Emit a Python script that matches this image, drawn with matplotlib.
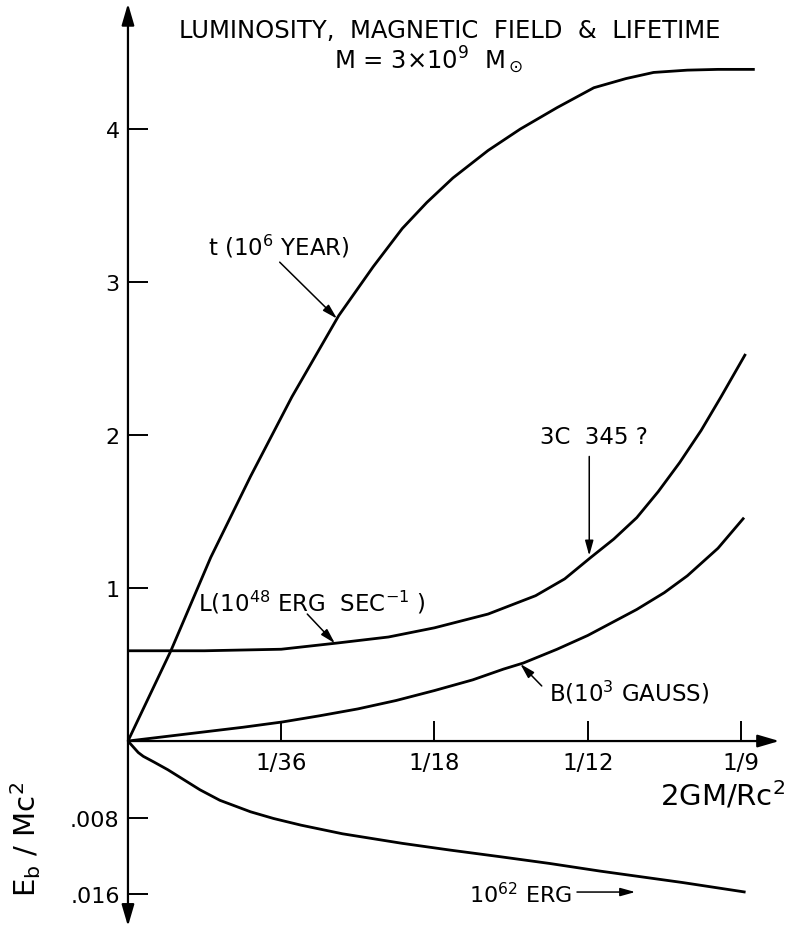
import numpy as np
import matplotlib
matplotlib.use("Agg")
from matplotlib import pyplot as plt

# x in units of 1/36 (2GM/Rc^2 * 36)
t_x = [0, 0.28, 0.54, 0.8, 1.07, 1.375, 1.6, 1.79, 1.95, 2.12, 2.35, 2.56, 2.8, 3.04, 3.25, 3.43, 3.65, 3.85, 4.09]
t_y = [0, 0.59, 1.2, 1.73, 2.25, 2.78, 3.1, 3.35, 3.52, 3.68, 3.86, 4.0, 4.14, 4.27, 4.33, 4.37, 4.385, 4.39, 4.39]

L_x = [0, 0.5, 0.75, 1.0, 1.18, 1.36, 1.7, 2.0, 2.35, 2.66, 2.85, 3.02, 3.17, 3.32, 3.46, 3.6, 3.74, 3.87, 4.03]
L_y = [0.59, 0.59, 0.595, 0.60, 0.62, 0.64, 0.68, 0.74, 0.83, 0.95, 1.06, 1.2, 1.32, 1.46, 1.63, 1.82, 2.03, 2.25, 2.53]

B_x = [0, 0.25, 0.5, 0.75, 1.01, 1.25, 1.5, 1.75, 2.0, 2.25, 2.45, 2.58, 2.8, 3.0, 3.32, 3.5, 3.65, 3.85, 4.02]
B_y = [0, 0.03, 0.06, 0.09, 0.125, 0.165, 0.21, 0.265, 0.33, 0.40, 0.47, 0.51, 0.60, 0.69, 0.86, 0.97, 1.08, 1.26, 1.46]

Eb_x = [0, 0.067, 0.1, 0.17, 0.26, 0.35, 0.47, 0.6, 0.80, 0.95, 1.13, 1.4, 1.79, 2.1, 2.43, 2.75, 3.08, 3.35, 3.62, 4.03]
Eb = [0, 0.0012, 0.0016, 0.0022, 0.0030, 0.0039, 0.0051, 0.0062, 0.0074, 0.0081, 0.0088, 0.0097,
      0.0107, 0.0114, 0.0121, 0.0128, 0.0136, 0.0142, 0.0148, 0.0158]

xticks = [1, 2, 3, 4]
xticklabels = ["1/36", "1/18", "1/12", "1/9"]
yticks = [1, 2, 3, 4]
eb_ticks = [0.008, 0.016]
eb_scale = 0.016  # .016 drawn one unit below the origin

fig = plt.figure(figsize=(7.92, 9.29), dpi=100)
ax = fig.add_axes([0, 0, 1, 1])
ax.set_xlim(-0.835, 4.333)
ax.set_ylim(-1.222, 4.85)

for s in ax.spines.values():
    s.set_visible(False)
ax.spines['left'].set_position(('data', 0))
ax.spines['bottom'].set_position(('data', 0))

lw = 2.0
ax.plot(t_x, t_y, color='k', lw=lw, solid_capstyle='butt', solid_joinstyle='round')
ax.plot(L_x, L_y, color='k', lw=lw, solid_capstyle='butt', solid_joinstyle='round')
ax.plot(B_x, B_y, color='k', lw=lw, solid_capstyle='butt', solid_joinstyle='round')
ax.plot(Eb_x, -np.array(Eb) / eb_scale, color='k', lw=lw, solid_capstyle='butt', solid_joinstyle='round')

# axes with arrows
axprops = dict(arrowstyle='-|>,head_length=1.3,head_width=0.38', color='k', lw=1.6,
               shrinkA=0, shrinkB=0)
ax.annotate('', xy=(0, 4.82), xytext=(0, 0), arrowprops=axprops)
ax.annotate('', xy=(0, -1.21), xytext=(0, 0), arrowprops=axprops)
ax.annotate('', xy=(4.25, 0), xytext=(0, 0), arrowprops=axprops)

ax.set_xticks(xticks)
ax.set_xticklabels(xticklabels)
ax.set_yticks(yticks + [-v / eb_scale for v in eb_ticks])
ax.set_yticklabels([str(v) for v in yticks] + ['.008', '.016'])
ax.tick_params(axis='x', direction='in', length=14.4, width=1.4, pad=7, labelsize=16.5)
ax.tick_params(axis='y', direction='in', length=14.4, width=1.4, pad=6, labelsize=16)

ax.text(2.10, 4.65, "LUMINOSITY,  MAGNETIC  FIELD  &  LIFETIME", ha='center', va='center', fontsize=17.5)
ax.text(1.96, 4.46, r"M = 3$\times$10$^9$  M$_\odot$", ha='center', va='center', fontsize=17.5)

ax.text(3.88, -0.35, r"2GM/Rc$^2$", ha='center', va='center', fontsize=21)
ax.text(-0.67, -0.64, r"E$_\mathrm{b}$ / Mc$^2$", ha='center', va='center', fontsize=21, rotation=90)

arr = dict(arrowstyle='-|>,head_length=0.9,head_width=0.25', color='k', lw=1.1,
           shrinkA=0, shrinkB=0)

ax.text(0.985, 3.235, r"t (10$^6$ YEAR)", ha='center', va='center', fontsize=16.5)
ax.annotate('', xy=(1.364, np.interp(1.364, t_x, t_y)), xytext=(0.99, 3.13), arrowprops=arr)

ax.text(1.20, 0.91, r"L(10$^{48}$ ERG  SEC$^{-1}$ )", ha='center', va='center', fontsize=16.5)
ax.annotate('', xy=(1.35, np.interp(1.35, L_x, L_y)), xytext=(1.17, 0.83), arrowprops=arr)

ax.text(3.04, 1.99, "3C  345 ?", ha='center', va='center', fontsize=16.5)
ax.annotate('', xy=(3.01, np.interp(3.01, L_x, L_y) + 0.02), xytext=(3.01, 1.86), arrowprops=arr)

ax.text(3.27, 0.32, r"B(10$^3$ GAUSS)", ha='center', va='center', fontsize=16.5)
ax.annotate('', xy=(2.56, np.interp(2.56, B_x, B_y)), xytext=(2.70, 0.36), arrowprops=arr)

ax.text(2.56, -1.0, r"10$^{62}$ ERG", ha='center', va='center', fontsize=16)
ax.annotate('', xy=(3.31, -0.987), xytext=(2.93, -0.987), arrowprops=arr)

fig.savefig("out.png", dpi=100)
